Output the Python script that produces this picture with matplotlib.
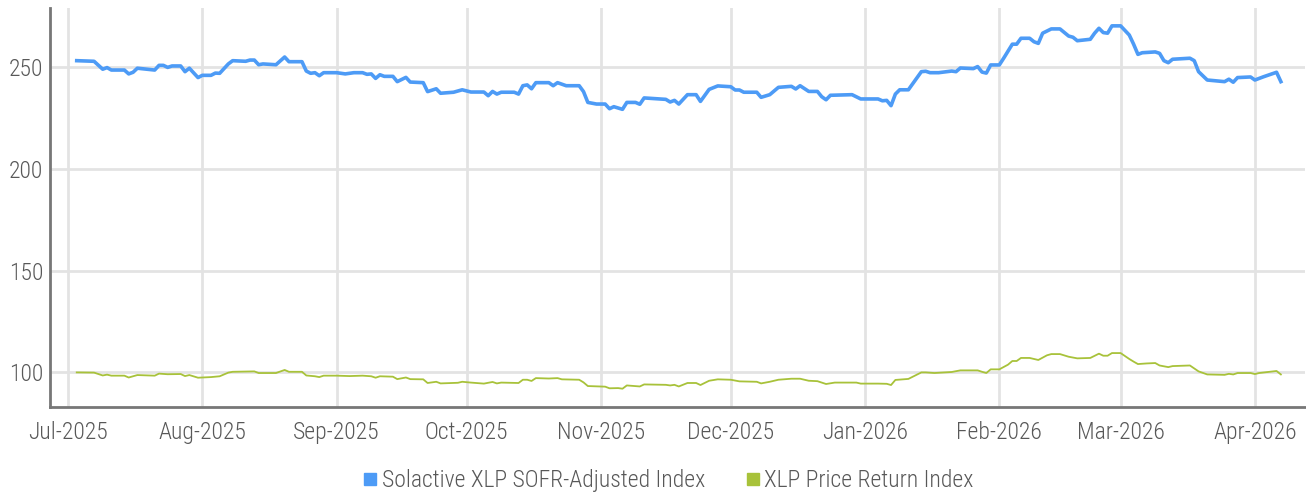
# -*- coding: utf-8 -*-

import pandas as pd
import matplotlib
matplotlib.use('Agg')
import matplotlib.pyplot as plt
import matplotlib.dates as mdates
from matplotlib.lines import Line2D

# Solactive XLP SOFR-Adjusted Index
sofr_dates = [
    '2025-07-03', '2025-07-07', '2025-07-09', '2025-07-10', '2025-07-11', '2025-07-14', '2025-07-15',
    '2025-07-16', '2025-07-17', '2025-07-21', '2025-07-22', '2025-07-23', '2025-07-24', '2025-07-25',
    '2025-07-27', '2025-07-28', '2025-07-29', '2025-07-31', '2025-08-01', '2025-08-03', '2025-08-04',
    '2025-08-05', '2025-08-07', '2025-08-08', '2025-08-11', '2025-08-12', '2025-08-13', '2025-08-14',
    '2025-08-15', '2025-08-18', '2025-08-20', '2025-08-21', '2025-08-24', '2025-08-25', '2025-08-26',
    '2025-08-27', '2025-08-28', '2025-08-29', '2025-09-01', '2025-09-03', '2025-09-05', '2025-09-07',
    '2025-09-08', '2025-09-09', '2025-09-10', '2025-09-11', '2025-09-12', '2025-09-14', '2025-09-15',
    '2025-09-17', '2025-09-18', '2025-09-21', '2025-09-22', '2025-09-24', '2025-09-25', '2025-09-28',
    '2025-09-30', '2025-10-02', '2025-10-05', '2025-10-06', '2025-10-07', '2025-10-08', '2025-10-09',
    '2025-10-12', '2025-10-13', '2025-10-14', '2025-10-15', '2025-10-16', '2025-10-17', '2025-10-20',
    '2025-10-21', '2025-10-22', '2025-10-24', '2025-10-27', '2025-10-28', '2025-10-29', '2025-10-31',
    '2025-11-02', '2025-11-03', '2025-11-04', '2025-11-06', '2025-11-07', '2025-11-09', '2025-11-10',
    '2025-11-11', '2025-11-16', '2025-11-17', '2025-11-18', '2025-11-19', '2025-11-21', '2025-11-23',
    '2025-11-24', '2025-11-26', '2025-11-28', '2025-12-01', '2025-12-02', '2025-12-03', '2025-12-04',
    '2025-12-07', '2025-12-08', '2025-12-10', '2025-12-12', '2025-12-15', '2025-12-16', '2025-12-17',
    '2025-12-19', '2025-12-21', '2025-12-22', '2025-12-23', '2025-12-24', '2025-12-29', '2025-12-31',
    '2026-01-04', '2026-01-05', '2026-01-06', '2026-01-07', '2026-01-08', '2026-01-09', '2026-01-11',
    '2026-01-14', '2026-01-15', '2026-01-16', '2026-01-18', '2026-01-21', '2026-01-22', '2026-01-23',
    '2026-01-26', '2026-01-27', '2026-01-28', '2026-01-29', '2026-01-30', '2026-02-01', '2026-02-02',
    '2026-02-04', '2026-02-05', '2026-02-06', '2026-02-08', '2026-02-09', '2026-02-10', '2026-02-11',
    '2026-02-13', '2026-02-15', '2026-02-17', '2026-02-18', '2026-02-19', '2026-02-22', '2026-02-23',
    '2026-02-24', '2026-02-25', '2026-02-26', '2026-02-27', '2026-03-01', '2026-03-03', '2026-03-04',
    '2026-03-05', '2026-03-06', '2026-03-09', '2026-03-10', '2026-03-11', '2026-03-12', '2026-03-13',
    '2026-03-17', '2026-03-18', '2026-03-19', '2026-03-21', '2026-03-25', '2026-03-26', '2026-03-27',
    '2026-03-28', '2026-03-31', '2026-04-01', '2026-04-03', '2026-04-06', '2026-04-07',
]
sofr_values = [
    253.1, 252.8, 248.9, 249.7, 248.5, 248.5, 246.6,
    247.4, 249.4, 248.5, 250.8, 250.8, 249.8, 250.5,
    250.5, 247.7, 249.4, 244.8, 245.9, 245.9, 247.0,
    246.9, 251.5, 253.1, 252.8, 253.4, 253.4, 251.1,
    251.5, 251.1, 254.9, 252.6, 252.6, 248.0, 246.9,
    247.2, 245.7, 247.2, 247.2, 246.6, 247.2, 247.2,
    246.4, 246.6, 244.4, 246.2, 245.4, 245.4, 242.8,
    244.9, 242.6, 242.3, 237.9, 239.3, 237.1, 237.6,
    238.8, 237.7, 237.7, 235.9, 238.0, 236.7, 237.6,
    237.6, 236.7, 240.8, 241.2, 239.3, 242.3, 242.3,
    240.8, 242.3, 240.8, 240.8, 237.9, 232.6, 231.8,
    231.8, 229.5, 230.5, 229.2, 232.6, 232.6, 231.7,
    234.8, 234.1, 232.8, 233.6, 231.8, 236.4, 236.4,
    233.1, 239.0, 240.7, 240.3, 238.7, 238.7, 237.6,
    237.6, 235.1, 236.4, 240.0, 240.5, 239.2, 240.8,
    238.0, 238.0, 235.4, 233.9, 236.1, 236.4, 234.3,
    234.3, 233.4, 233.6, 231.0, 236.7, 238.8, 238.8,
    247.7, 247.9, 247.2, 247.2, 248.0, 247.7, 249.5,
    249.2, 250.2, 247.5, 247.0, 251.0, 251.0, 254.3,
    261.2, 261.2, 264.1, 264.1, 262.4, 261.6, 266.6,
    268.7, 268.7, 265.2, 264.6, 262.9, 263.6, 266.6,
    269.0, 266.9, 266.6, 270.2, 270.2, 265.7, 261.2,
    256.2, 257.0, 257.4, 256.7, 253.1, 252.1, 253.8,
    254.3, 253.1, 247.7, 243.6, 242.8, 244.0, 242.5,
    244.8, 245.1, 243.6, 245.2, 247.4, 242.8,
]

# XLP Price Return Index
price_dates = [
    '2025-07-03', '2025-07-07', '2025-07-09', '2025-07-10', '2025-07-11', '2025-07-14', '2025-07-15',
    '2025-07-17', '2025-07-21', '2025-07-22', '2025-07-24', '2025-07-27', '2025-07-28', '2025-07-29',
    '2025-07-31', '2025-08-03', '2025-08-05', '2025-08-07', '2025-08-08', '2025-08-13', '2025-08-14',
    '2025-08-18', '2025-08-20', '2025-08-21', '2025-08-24', '2025-08-25', '2025-08-27', '2025-08-28',
    '2025-08-29', '2025-09-01', '2025-09-04', '2025-09-07', '2025-09-09', '2025-09-10', '2025-09-11',
    '2025-09-14', '2025-09-15', '2025-09-17', '2025-09-18', '2025-09-21', '2025-09-22', '2025-09-24',
    '2025-09-25', '2025-09-29', '2025-09-30', '2025-10-02', '2025-10-05', '2025-10-07', '2025-10-08',
    '2025-10-09', '2025-10-13', '2025-10-14', '2025-10-15', '2025-10-16', '2025-10-17', '2025-10-20',
    '2025-10-22', '2025-10-23', '2025-10-27', '2025-10-28', '2025-10-29', '2025-11-02', '2025-11-03',
    '2025-11-05', '2025-11-06', '2025-11-07', '2025-11-10', '2025-11-11', '2025-11-16', '2025-11-17',
    '2025-11-18', '2025-11-19', '2025-11-21', '2025-11-23', '2025-11-24', '2025-11-26', '2025-11-28',
    '2025-12-01', '2025-12-03', '2025-12-07', '2025-12-08', '2025-12-10', '2025-12-12', '2025-12-15',
    '2025-12-17', '2025-12-19', '2025-12-21', '2025-12-23', '2025-12-25', '2025-12-30', '2025-12-31',
    '2026-01-04', '2026-01-06', '2026-01-07', '2026-01-08', '2026-01-11', '2026-01-14', '2026-01-15',
    '2026-01-17', '2026-01-21', '2026-01-23', '2026-01-27', '2026-01-28', '2026-01-29', '2026-01-30',
    '2026-02-01', '2026-02-03', '2026-02-04', '2026-02-05', '2026-02-06', '2026-02-08', '2026-02-10',
    '2026-02-12', '2026-02-13', '2026-02-15', '2026-02-17', '2026-02-19', '2026-02-22', '2026-02-24',
    '2026-02-25', '2026-02-26', '2026-02-27', '2026-03-01', '2026-03-03', '2026-03-04', '2026-03-05',
    '2026-03-07', '2026-03-09', '2026-03-10', '2026-03-12', '2026-03-13', '2026-03-17', '2026-03-19',
    '2026-03-21', '2026-03-25', '2026-03-26', '2026-03-27', '2026-03-28', '2026-03-31', '2026-04-01',
    '2026-04-02', '2026-04-06', '2026-04-07',
]
price_values = [
    100.0, 99.9, 98.5, 98.9, 98.4, 98.4, 97.5,
    98.7, 98.4, 99.4, 99.1, 99.2, 98.2, 98.7,
    97.4, 97.7, 98.1, 99.9, 100.3, 100.5, 99.7,
    99.7, 101.2, 100.3, 100.3, 98.5, 98.1, 97.7,
    98.4, 98.4, 98.2, 98.4, 98.1, 97.4, 98.1,
    97.9, 96.7, 97.5, 96.7, 96.6, 94.8, 95.4,
    94.6, 94.9, 95.4, 95.0, 94.5, 95.3, 94.6,
    95.0, 94.8, 96.4, 96.4, 95.8, 97.2, 97.0,
    97.2, 96.6, 96.4, 95.1, 93.3, 93.0, 92.2,
    92.3, 92.0, 93.6, 93.1, 94.1, 93.9, 93.6,
    93.9, 93.1, 94.8, 94.8, 93.8, 95.9, 96.6,
    96.4, 95.6, 95.4, 94.6, 95.4, 96.4, 96.9,
    96.9, 95.9, 95.7, 94.3, 95.0, 95.0, 94.5,
    94.5, 94.4, 93.8, 96.3, 96.8, 100.0, 100.0,
    99.7, 100.2, 101.0, 101.0, 100.3, 99.7, 101.5,
    101.5, 103.8, 105.6, 105.6, 107.1, 107.1, 106.1,
    108.4, 109.0, 109.0, 107.7, 106.9, 107.1, 109.2,
    108.2, 108.2, 109.5, 109.5, 106.6, 105.3, 104.1,
    104.4, 104.6, 103.4, 102.6, 103.1, 103.4, 100.5,
    99.0, 98.8, 99.3, 99.0, 99.7, 99.7, 99.2,
    99.7, 100.7, 99.0,
]

month_ticks = pd.date_range('2025-07-01', '2026-04-01', freq='MS')
y_ticks = [100, 150, 200, 250]

blue = '#4d9bf6'
green = '#a8c23a'
text_gray = '#585858'

plt.rcParams['font.family'] = ['Roboto Condensed', 'Liberation Sans Narrow', 'Roboto', 'DejaVu Sans']
plt.rcParams['font.weight'] = 'light'

fig = plt.figure(figsize=(13.06, 4.93), dpi=100)
ax = fig.add_axes([0.0383, 0.1744, 0.9607, 0.8095])

ax.plot(pd.to_datetime(sofr_dates), sofr_values, color=blue, linewidth=2.6,
        label='Solactive XLP SOFR-Adjusted Index', zorder=3)
ax.plot(pd.to_datetime(price_dates), price_values, color=green, linewidth=1.3,
        label='XLP Price Return Index', zorder=3)

ax.set_xlim(pd.Timestamp('2025-06-26 20:00'), pd.Timestamp('2026-04-12 12:00'))
ax.set_ylim(83, 279)
ax.set_xticks(month_ticks)
ax.xaxis.set_major_formatter(mdates.DateFormatter('%b-%Y'))
ax.set_yticks(y_ticks)

ax.grid(True, color='#e3e3e3', linewidth=2)
ax.set_axisbelow(True)
for s in ['top', 'right']:
    ax.spines[s].set_visible(False)
for s in ['left', 'bottom']:
    ax.spines[s].set_color('#777777')
    ax.spines[s].set_linewidth(2)
ax.tick_params(axis='both', length=0, labelsize=17, colors=text_gray)
ax.tick_params(axis='x', pad=10)
ax.tick_params(axis='y', pad=5)

handles = [
    Line2D([], [], marker='s', linestyle='none', markersize=9, color=blue),
    Line2D([], [], marker='s', linestyle='none', markersize=9, color=green),
]
fig.legend(handles, ['Solactive XLP SOFR-Adjusted Index', 'XLP Price Return Index'],
           loc='center', bbox_to_anchor=(0.511, 0.025), ncol=2, frameon=False,
           fontsize=17, labelcolor=text_gray, handletextpad=0.1, columnspacing=1.6,
           handlelength=0.8)

fig.savefig('out.png', dpi=100)
